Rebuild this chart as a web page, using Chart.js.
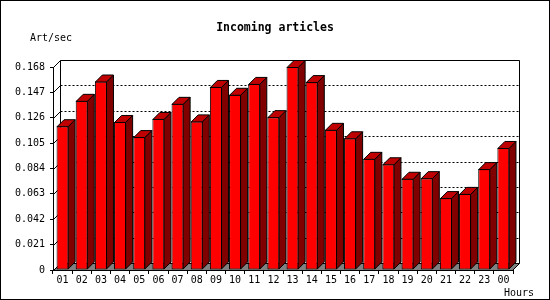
<!DOCTYPE html>
<html>
<head>
<meta charset="utf-8">
<title>Incoming articles</title>
<script src="https://cdn.jsdelivr.net/npm/chart.js@4.4.0/dist/chart.umd.min.js"></script>
<style>
  html, body { margin: 0; padding: 0; background: #fff; }
  canvas { display: block; }
</style>
</head>
<body>
<canvas id="chart" width="550" height="300"></canvas>
<script>
// ===============================
// Data
// ===============================
const hours = ["01", "02", "03", "04", "05", "06", "07", "08", "09", "10", "11", "12",
               "13", "14", "15", "16", "17", "18", "19", "20", "21", "22", "23", "00"];
const articlesPerSec = [0.119, 0.140, 0.156, 0.1225, 0.110, 0.125, 0.1375, 0.123,
                        0.1515, 0.145, 0.154, 0.1265, 0.168, 0.1555, 0.116, 0.109,
                        0.092, 0.0875, 0.0755, 0.076, 0.0595, 0.063, 0.0835, 0.101];
const yTickValues = [0, 0.021, 0.042, 0.063, 0.084, 0.105, 0.126, 0.147, 0.168];
const yTickLabels = ["0", "0.021", "0.042", "0.063", "0.084", "0.105", "0.126", "0.147", "0.168"];

// ===============================
// 3D look
// ===============================
const DEPTH = 7;
const MONO = "'DejaVu Sans Mono', 'Liberation Mono', monospace";

const poly = (ctx, pts) => {
  ctx.beginPath();
  ctx.moveTo(pts[0][0], pts[0][1]);
  for (let i = 1; i < pts.length; i++) ctx.lineTo(pts[i][0], pts[i][1]);
  ctx.closePath();
};

const line = (ctx, x1, y1, x2, y2) => {
  ctx.beginPath();
  ctx.moveTo(x1, y1);
  ctx.lineTo(x2, y2);
  ctx.stroke();
};

const frame3d = {
  id: "frame3d",
  beforeDraw(chart) {
    const { ctx, chartArea: a, scales: { y } } = chart;
    const d = DEPTH;
    const L = a.left + 0.5, R = a.right - 0.5, B = a.bottom + 0.5;
    ctx.save();
    ctx.fillStyle = "#fff";
    ctx.fillRect(0, 0, chart.width, chart.height);

    // floor
    ctx.fillStyle = "#808080";
    poly(ctx, [[L, B], [R, B], [R + d, B - d], [L + d, B - d]]);
    ctx.fill();

    ctx.strokeStyle = "#000";
    ctx.lineWidth = 1;

    // back wall grid (dotted)
    yTickValues.forEach(v => {
      if (v === 0 || v === yTickValues[yTickValues.length - 1]) return;
      const py = Math.round(y.getPixelForValue(v)) + 0.5;
      ctx.setLineDash([2, 2]);
      line(ctx, L + d, py - d, R + d, py - d);
      ctx.setLineDash([]);
      line(ctx, L, py, L + d, py - d);
    });

    // frame
    const T = Math.round(y.getPixelForValue(yTickValues[yTickValues.length - 1])) + 0.5;
    ctx.beginPath();
    ctx.moveTo(L, T);
    ctx.lineTo(L + d, T - d);
    ctx.lineTo(R + d, T - d);
    ctx.lineTo(R + d, B - d);
    ctx.lineTo(R, B);
    ctx.stroke();
    line(ctx, L + d, T - d, L + d, B - d);
    line(ctx, L, B, L + d, B - d);
    line(ctx, L + d, B - d, R + d, B - d);

    // outer border
    ctx.strokeRect(0.5, 0.5, chart.width - 1, chart.height - 1);
    ctx.restore();
  },
  afterDatasetsDraw(chart) {
    const { ctx } = chart;
    const d = DEPTH;
    const meta = chart.getDatasetMeta(0);
    ctx.save();
    ctx.strokeStyle = "#000";
    ctx.lineWidth = 1;
    ctx.lineJoin = "miter";
    meta.data.forEach(bar => {
      const { x, y, base, width } = bar.getProps(["x", "y", "base", "width"], true);
      const l = x - width / 2 + 0.5, r = x + width / 2 - 0.5;
      const t = y + 0.5, b = base - 0.5;
      // side
      ctx.fillStyle = "#800000";
      poly(ctx, [[r, t], [r + d, t - d], [r + d, b - d], [r, b]]);
      ctx.fill();
      ctx.stroke();
      // top
      ctx.fillStyle = "#c00000";
      poly(ctx, [[l, t], [l + d, t - d], [r + d, t - d], [r, t]]);
      ctx.fill();
      ctx.stroke();
    });
    ctx.restore();
  },
  afterDraw(chart) {
    const { ctx } = chart;
    ctx.save();
    ctx.fillStyle = "#000";
    ctx.textBaseline = "alphabetic";
    ctx.font = "bold 11.5px " + MONO;
    ctx.textAlign = "center";
    ctx.fillText("Incoming articles", 275, 31);
    ctx.font = "10px " + MONO;
    ctx.textAlign = "left";
    ctx.fillText("Art/sec", 30, 41);
    ctx.fillText("Hours", 504, 296);
    ctx.restore();
  }
};

// ===============================
// Chart
// ===============================
const ctxChart = document.getElementById("chart").getContext("2d");

new Chart(ctxChart, {
  type: "bar",
  data: {
    labels: hours,
    datasets: [{
      label: "Art/sec",
      data: articlesPerSec,
      backgroundColor: "#ff0000",
      borderColor: "#000",
      borderWidth: 1,
      borderSkipped: false,
      barPercentage: 0.63,
      categoryPercentage: 1,
      clip: false
    }]
  },
  options: {
    responsive: false,
    devicePixelRatio: 1,
    animation: false,
    layout: { padding: { left: 0, top: 67, right: 37, bottom: 0 } },
    plugins: {
      legend: { display: false },
      title: { display: false },
      tooltip: { enabled: false }
    },
    scales: {
      x: {
        offset: true,
        afterFit: s => { s.height = 30; },
        grid: {
          offset: true,
          drawOnChartArea: false,
          drawTicks: true,
          tickLength: 4,
          color: "#000"
        },
        border: { display: true, color: "#000", width: 1 },
        ticks: {
          autoSkip: false,
          maxRotation: 0,
          padding: 0,
          color: "#000",
          font: { family: MONO, size: 10 }
        }
      },
      y: {
        min: 0,
        max: 0.168,
        afterFit: s => { s.width = 53; },
        afterBuildTicks: s => { s.ticks = yTickValues.map(v => ({ value: v })); },
        grid: {
          drawOnChartArea: false,
          drawTicks: true,
          tickLength: 3,
          color: "#000"
        },
        border: { display: true, color: "#000", width: 1 },
        ticks: {
          padding: 5,
          color: "#000",
          font: { family: MONO, size: 10 },
          callback: (v, i) => yTickLabels[i]
        }
      }
    }
  },
  plugins: [frame3d]
});
</script>
</body>
</html>
